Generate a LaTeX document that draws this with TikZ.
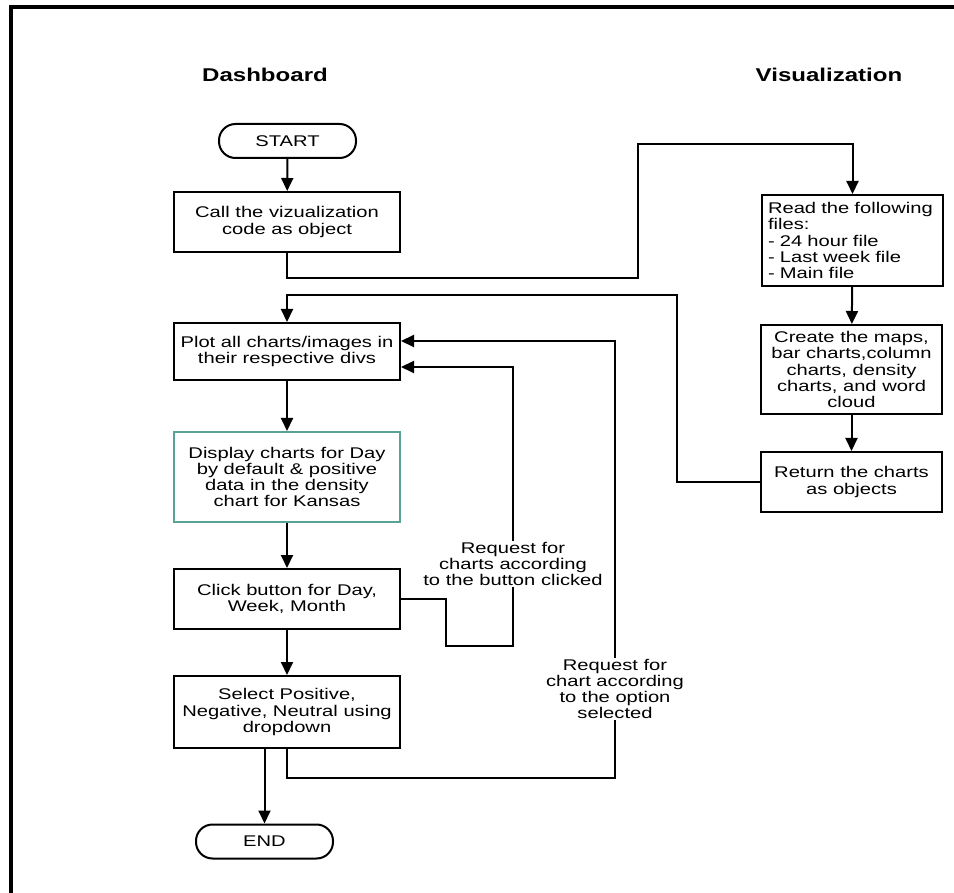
\documentclass[tikz,border=0pt]{standalone}
\usepackage{fontspec}
\setmainfont{Liberation Sans}[FakeStretch=1.3]
\usetikzlibrary{arrows.meta}
\definecolor{tealline}{RGB}{90,162,150}
\begin{document}
\begin{tikzpicture}[x=1pt,y=-1pt,
  font=\fontsize{15.5}{16.3}\selectfont,
  box/.style={draw, line width=2pt, align=center, inner sep=4pt},
  term/.style={box, rounded corners=16.5pt, minimum width=137pt, minimum height=34pt},
  wide/.style={box, minimum width=226pt},
  narrow/.style={box, minimum width=181pt},
  flow/.style={line width=2pt},
  arr/.style={flow, -{Triangle[length=13pt,width=12pt]}},
  note/.style={align=center, inner sep=1pt},
  heading/.style={font=\fontsize{18.5}{20}\selectfont\bfseries}]
\useasboundingbox (0,0) rectangle (954,893);

% page frame (left and top edges)
\draw[line width=4pt] (11,893) -- (11,7) -- (954,7);

% column headings
\node[heading] (hdash) at (265,75) {Dashboard};
\node[heading] (hvis) at (829,75) {Visualization};

% dashboard column
\node[term] (start) at (287.5,141) {START};
\node[wide, minimum height=60pt] (call) at (287,222) {Call the vizualization\\code as object};
\node[wide, minimum height=57pt] (plot) at (287,351.5) {Plot all charts/images in\\their respective divs};
\node[wide, minimum height=90pt, draw=tealline] (disp) at (287,477) {Display charts for Day\\by default \& positive\\data in the density\\chart for Kansas};
\node[wide, minimum height=60pt] (click) at (287,599) {Click button for Day,\\Week, Month};
\node[wide, minimum height=72pt] (sel) at (287,712) {Select Positive,\\Negative, Neutral using\\dropdown};
\node[term] (end) at (264.5,841.5) {END};

% visualization column
\node[narrow, minimum height=91pt, align=left, text width=169pt] (read) at (852.5,240.5) {Read the following\\files:\\- 24 hour file\\- Last week file\\- Main file};
\node[narrow, minimum height=89pt] (make) at (851.5,369.5) {Create the maps,\\bar charts,column\\charts, density\\charts, and word\\cloud};
\node[narrow, minimum height=60pt] (ret) at (851.5,482) {Return the charts\\as objects};

% labels on the feedback lines
\node[note] (req1) at (513,564) {Request for\\charts according\\to the button clicked};
\node[note] (req2) at (615,689) {Request for\\chart according\\to the option\\selected};

% bend points
\coordinate (c1) at (638,278);
\coordinate (c2) at (638,144);
\coordinate (r1) at (677,295);
\coordinate (k1) at (446,646);
\coordinate (s1) at (287,778);

% main flow
\draw[arr] (start) -- (call);
\draw[arr] (call.south) |- (c1) -- (c2) -| (read.north);
\draw[arr] (read) -- (make);
\draw[arr] (make) -- (ret);
\draw[arr] (ret.west) -| (r1) -| (plot.north);
\draw[arr] (plot) -- (disp);
\draw[arr] (disp) -- (click);
\draw[arr] (click) -- (sel);
\draw[arr] (sel.south -| end.north) -- (end.north);

% feedback from the buttons
\draw[flow] (click.east) -| (k1) -| (req1.south);
\draw[arr] (req1.north) |- ([yshift=-15.5pt]plot.east);

% feedback from the dropdown
\draw[flow] (sel.south) |- (s1) -| (req2.south);
\draw[arr] (req2.north) |- ([yshift=10.5pt]plot.east);
\end{tikzpicture}
\end{document}
